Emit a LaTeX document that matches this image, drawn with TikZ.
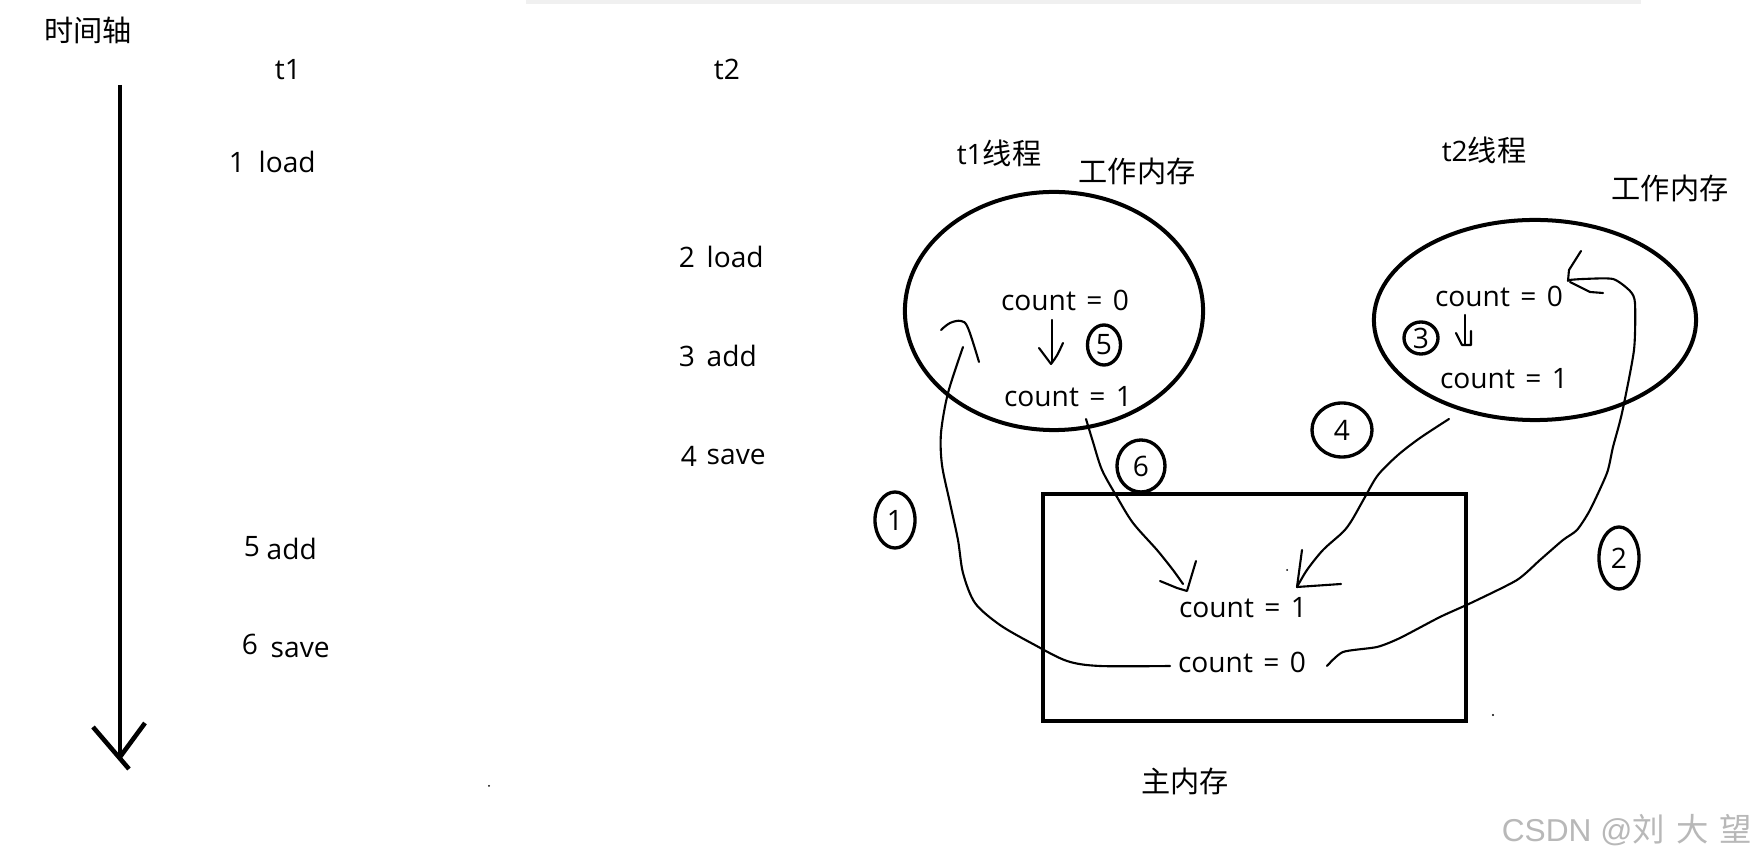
\documentclass[tikz,border=0pt]{standalone}
\usepackage{fontspec}
\setmainfont{Open Sans}
\newfontfamily\cjk{Noto Sans CJK SC}
\newfontfamily\wmlat{Liberation Sans}
\usetikzlibrary{shapes.geometric}
\newcommand\zh[1]{{\cjk\fontsize{8.3}{10}\selectfont #1}}
\newcommand\cntxt[1]{count\hspace{0.37em}=\hspace{0.37em}#1}
\tikzset{
  lat/.style={font=\fontsize{8}{9}\selectfont, inner sep=0pt, anchor=base},
  cjn/.style={font=\fontsize{8}{9}\selectfont, inner sep=0pt, anchor=center},
  bigshape/.style={draw, line width=1.14pt, inner sep=0pt},
  ring/.style={draw, ellipse, line width=0.95pt, inner sep=0pt, font=\fontsize{8}{9}\selectfont},
  hand/.style={line width=0.6pt, line cap=round, line join=round},
  axisline/.style={line width=1.3pt}
}
\begin{document}
\begin{tikzpicture}[x=0.01cm,y=-0.01cm]
\path[use as bounding box, fill=white] (0,0) rectangle (1756,858);
\fill[black!6] (526,0) rectangle (1641,4);

% time axis
\node[cjn] (axislbl) at (88,30) {\zh{时间轴}};
\coordinate (axtop) at (120,85);
\coordinate (axbot) at (120,757);
\coordinate (al1) at (93,727);
\coordinate (al2) at (129,769);
\coordinate (ar1) at (145,723);
\draw[axisline] (axtop) -- (axbot);
\draw[axisline] (al1) -- (al2);
\draw[axisline] (ar1) -- (axbot);

% thread headers
\node[lat] (t1) at (288,80) {t1};
\node[lat] (t2) at (727,80) {t2};

% steps
\node[lat] (n1) at (237,173) {1};
\node[lat, anchor=base west] (s1) at (258,173) {load};
\node[lat] (n2) at (687,268) {2};
\node[lat, anchor=base west] (s2) at (706,268) {load};
\node[lat] (n3) at (687,367) {3};
\node[lat, anchor=base west] (s3) at (706,367) {add};
\node[lat] (n4) at (689,467) {4};
\node[lat, anchor=base west] (s4) at (706,465) {save};
\node[lat] (n5) at (252,557) {5};
\node[lat, anchor=base west] (s5) at (266,560) {add};
\node[lat] (n6) at (250,655) {6};
\node[lat, anchor=base west] (s6) at (270,658) {save};

% memories
\node[bigshape, ellipse, minimum width=2.98cm, minimum height=2.38cm] (w1) at (1054,311) {};
\node[bigshape, ellipse, minimum width=3.22cm, minimum height=2.00cm] (w2) at (1535,320) {};
\node[bigshape, rectangle, minimum width=4.23cm, minimum height=2.27cm] (mm) at (1254.5,607.5) {};

\node[cjn] (th1) at (999,153) {t1\zh{线程}};
\node[cjn] (wk1) at (1137,171) {\zh{工作内存}};
\node[cjn] (th2) at (1484,150) {t2\zh{线程}};
\node[cjn] (wk2) at (1670,188) {\zh{工作内存}};
\node[cjn] (mainlbl) at (1185,781) {\zh{主内存}};

\node[lat] (a0) at (1065,311) {\cntxt{0}};
\node[lat] (a1) at (1068,407) {\cntxt{1}};
\node[lat] (b0) at (1499,307) {\cntxt{0}};
\node[lat] (b1) at (1504,389) {\cntxt{1}};
\node[lat] (m1) at (1243,618) {\cntxt{1}};
\node[lat] (m0) at (1242,673) {\cntxt{0}};

% ringed numbers
\node[ring, minimum width=0.40cm, minimum height=0.56cm] (r1) at (895,520) {1};
\node[ring, minimum width=0.40cm, minimum height=0.62cm] (r2) at (1619,558) {2};
\node[ring, minimum width=0.34cm, minimum height=0.32cm] (r3) at (1421,338) {3};
\node[ring, minimum width=0.60cm, minimum height=0.54cm] (r4) at (1342,430) {4};
\node[ring, minimum width=0.33cm, minimum height=0.40cm] (r5) at (1104,345) {5};
\node[ring, minimum width=0.48cm, minimum height=0.52cm] (r6) at (1141,466) {6};

% small arrows inside working memories
\coordinate (a0b) at (1052,320);
\coordinate (a1t) at (1051,364);
\draw[hand] (a0b) -- (1052,362);
\draw[hand] (1039,348) .. controls (1044,356) .. (a1t);
\draw[hand] (1063,343) .. controls (1057,356) .. (a1t);
\coordinate (b0b) at (1465,315);
\draw[hand] (b0b) -- (1465,344);
\draw[hand] (1456,333) -- (1462,345) -- (1471,345) -- (1471,331);

% curve 1: main count=0 -> t1
\coordinate (c1s) at (1170,666);
\coordinate (c1e) at (963,347);
\draw[hand] plot[smooth, tension=0.5] coordinates {(c1s) (1100,666) (1067,661) (1033,644) (1000,625) (975,603) (963,573) (958,540) (950,503) (942,465) (941,433) (948,393) (c1e)};
\draw[hand] plot[smooth, tension=0.6] coordinates {(941,330) (950,323) (961,321) (968,328) (979,362)};

% curve 2: main count=0 -> t2
\coordinate (c2s) at (1327,666);
\coordinate (c2e) at (1569,280);
\draw[hand] plot[smooth, tension=0.4] coordinates {(c2s) (1343,652) (1377,647) (1400,638) (1440,617) (1473,602) (1517,580) (1540,560) (1563,540) (1577,530) (1590,510) (1607,473) (1613,447) (1622,413) (1634,350) (1635,303) (1630,291) (1613,279) (1583,279) (c2e)};
\draw[hand] (1581,251) -- (1569,270) -- (1568,281);
\draw[hand] (1570,282) -- (1590,292) -- (1603,293);

% curve 4: t2 count=1 -> main
\coordinate (c4s) at (1449,419);
\coordinate (c4e) at (1297,587);
\draw[hand] plot[smooth, tension=0.5] coordinates {(c4s) (1420,438) (1398,455) (1378,475) (1365,497) (1352,520) (1343,532) (1323,550) (1307,570) (c4e)};
\draw[hand] (1302,550) -- (c4e) -- (1341,584);

% curve 6: t1 count=1 -> main
\coordinate (c6s) at (1086,419);
\coordinate (c6e) at (1187,591);
\draw[hand] plot[smooth, tension=0.5] coordinates {(c6s) (1093,442) (1102,470) (1117,497) (1133,523) (1157,550) (1173,570) (1183,584)};
\draw[hand] (1160,581) -- (1177,588) -- (c6e) -- (1196,561);

% stray dots
\fill (1287,570) circle[radius=1];
\fill (1493,715) circle[radius=1.2];
\fill (489,786) circle[radius=1];

% watermark
\node[inner sep=0pt, text=black!28, anchor=center] (wm) at (1627,830) {{\wmlat\fontsize{9}{10}\selectfont CSDN @}{\cjk\fontsize{9.2}{10}\selectfont 刘\hspace{0.35em}大\hspace{0.35em}望}};
\end{tikzpicture}
\end{document}
